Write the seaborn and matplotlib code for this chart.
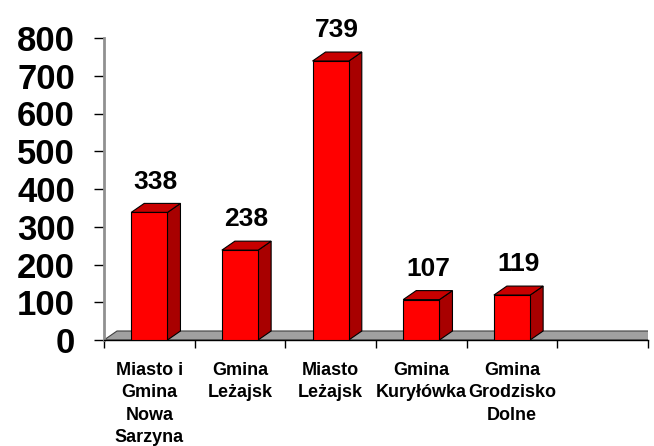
import matplotlib.pyplot as plt
import numpy as np
import pandas as pd
import seaborn as sns
from matplotlib.patches import Polygon

categories = ["Miasto i\nGmina\nNowa\nSarzyna", "Gmina\nLeżajsk", "Miasto\nLeżajsk",
              "Gmina\nKuryłówka", "Gmina\nGrodzisko\nDolne"]
values = [338, 238, 739, 107, 119]
y_ticks = [0, 100, 200, 300, 400, 500, 600, 700, 800]

sns.set_style("white")
plt.rcParams['font.family'] = ['Liberation Sans', 'DejaVu Sans']
plt.rcParams['font.weight'] = 'bold'
plt.rcParams['text.color'] = 'black'
plt.rcParams['xtick.color'] = 'black'
plt.rcParams['ytick.color'] = 'black'

df = pd.DataFrame({"gmina": categories, "liczba": values})

W, H = 654, 446
fig = plt.figure(figsize=(W / 100, H / 100), dpi=100)
ax = fig.add_axes([104 / W, 106 / H, 544 / W, 302 / H])

sns.barplot(data=df, x="gmina", y="liczba", color="#ff0000", saturation=1,
            width=0.4, edgecolor="black", linewidth=0.8, errorbar=None,
            ax=ax, zorder=3)

n_slots = 6
ax.set_xlim(-0.5, n_slots - 0.5)
ax.set_ylim(0, 800)

# 3D depth, pixels -> data units
dx = 13 / (544 / n_slots)
dy = 9 * 800 / 302

# grey floor
x0, x1 = ax.get_xlim()
floor = Polygon([(x0, 0), (x1, 0), (x1 + dx, dy), (x0 + dx, dy)],
                facecolor="#a0a0a0", edgecolor="#404040", linewidth=0.8, zorder=1)
ax.add_patch(floor)

for p, v in zip(ax.patches[:len(values)], values):
    x, w, h = p.get_x(), p.get_width(), p.get_height()
    side = Polygon([(x + w, 0), (x + w + dx, dy), (x + w + dx, h + dy), (x + w, h)],
                   facecolor="#a80000", edgecolor="black", linewidth=0.8, zorder=2.5)
    top = Polygon([(x, h), (x + w, h), (x + w + dx, h + dy), (x + dx, h + dy)],
                  facecolor="#c80000", edgecolor="black", linewidth=0.8, zorder=2.5)
    ax.add_patch(side)
    ax.add_patch(top)
    ax.annotate(str(v), (x + w / 2 + dx / 2, h + dy), xytext=(0, 7),
                textcoords="offset points", ha="center", va="bottom",
                fontsize=19, fontweight="bold", color="black")

ax.set_yticks(y_ticks)
ax.set_yticklabels([str(t) for t in y_ticks], fontsize=25, fontweight="bold", color="black")
ax.set_xticks(range(len(categories)))
ax.set_xticklabels(categories, fontsize=13, fontweight="bold", linespacing=1.4, color="black")
ax.set_xticks(np.arange(-0.5, n_slots, 1), minor=True)

ax.tick_params(axis="y", left=True, length=7, width=1, color="black", pad=14)
ax.tick_params(axis="x", which="major", length=0, pad=16)
ax.tick_params(axis="x", which="minor", bottom=True, length=6, width=1, color="black")

ax.set_xlabel("")
ax.set_ylabel("")
sns.despine(ax=ax, top=True, right=True)
ax.spines["left"].set_color("#909090")
ax.spines["left"].set_linewidth(2)
ax.spines["bottom"].set_color("black")
ax.spines["bottom"].set_linewidth(1)

fig.savefig("out.png", dpi=100)
